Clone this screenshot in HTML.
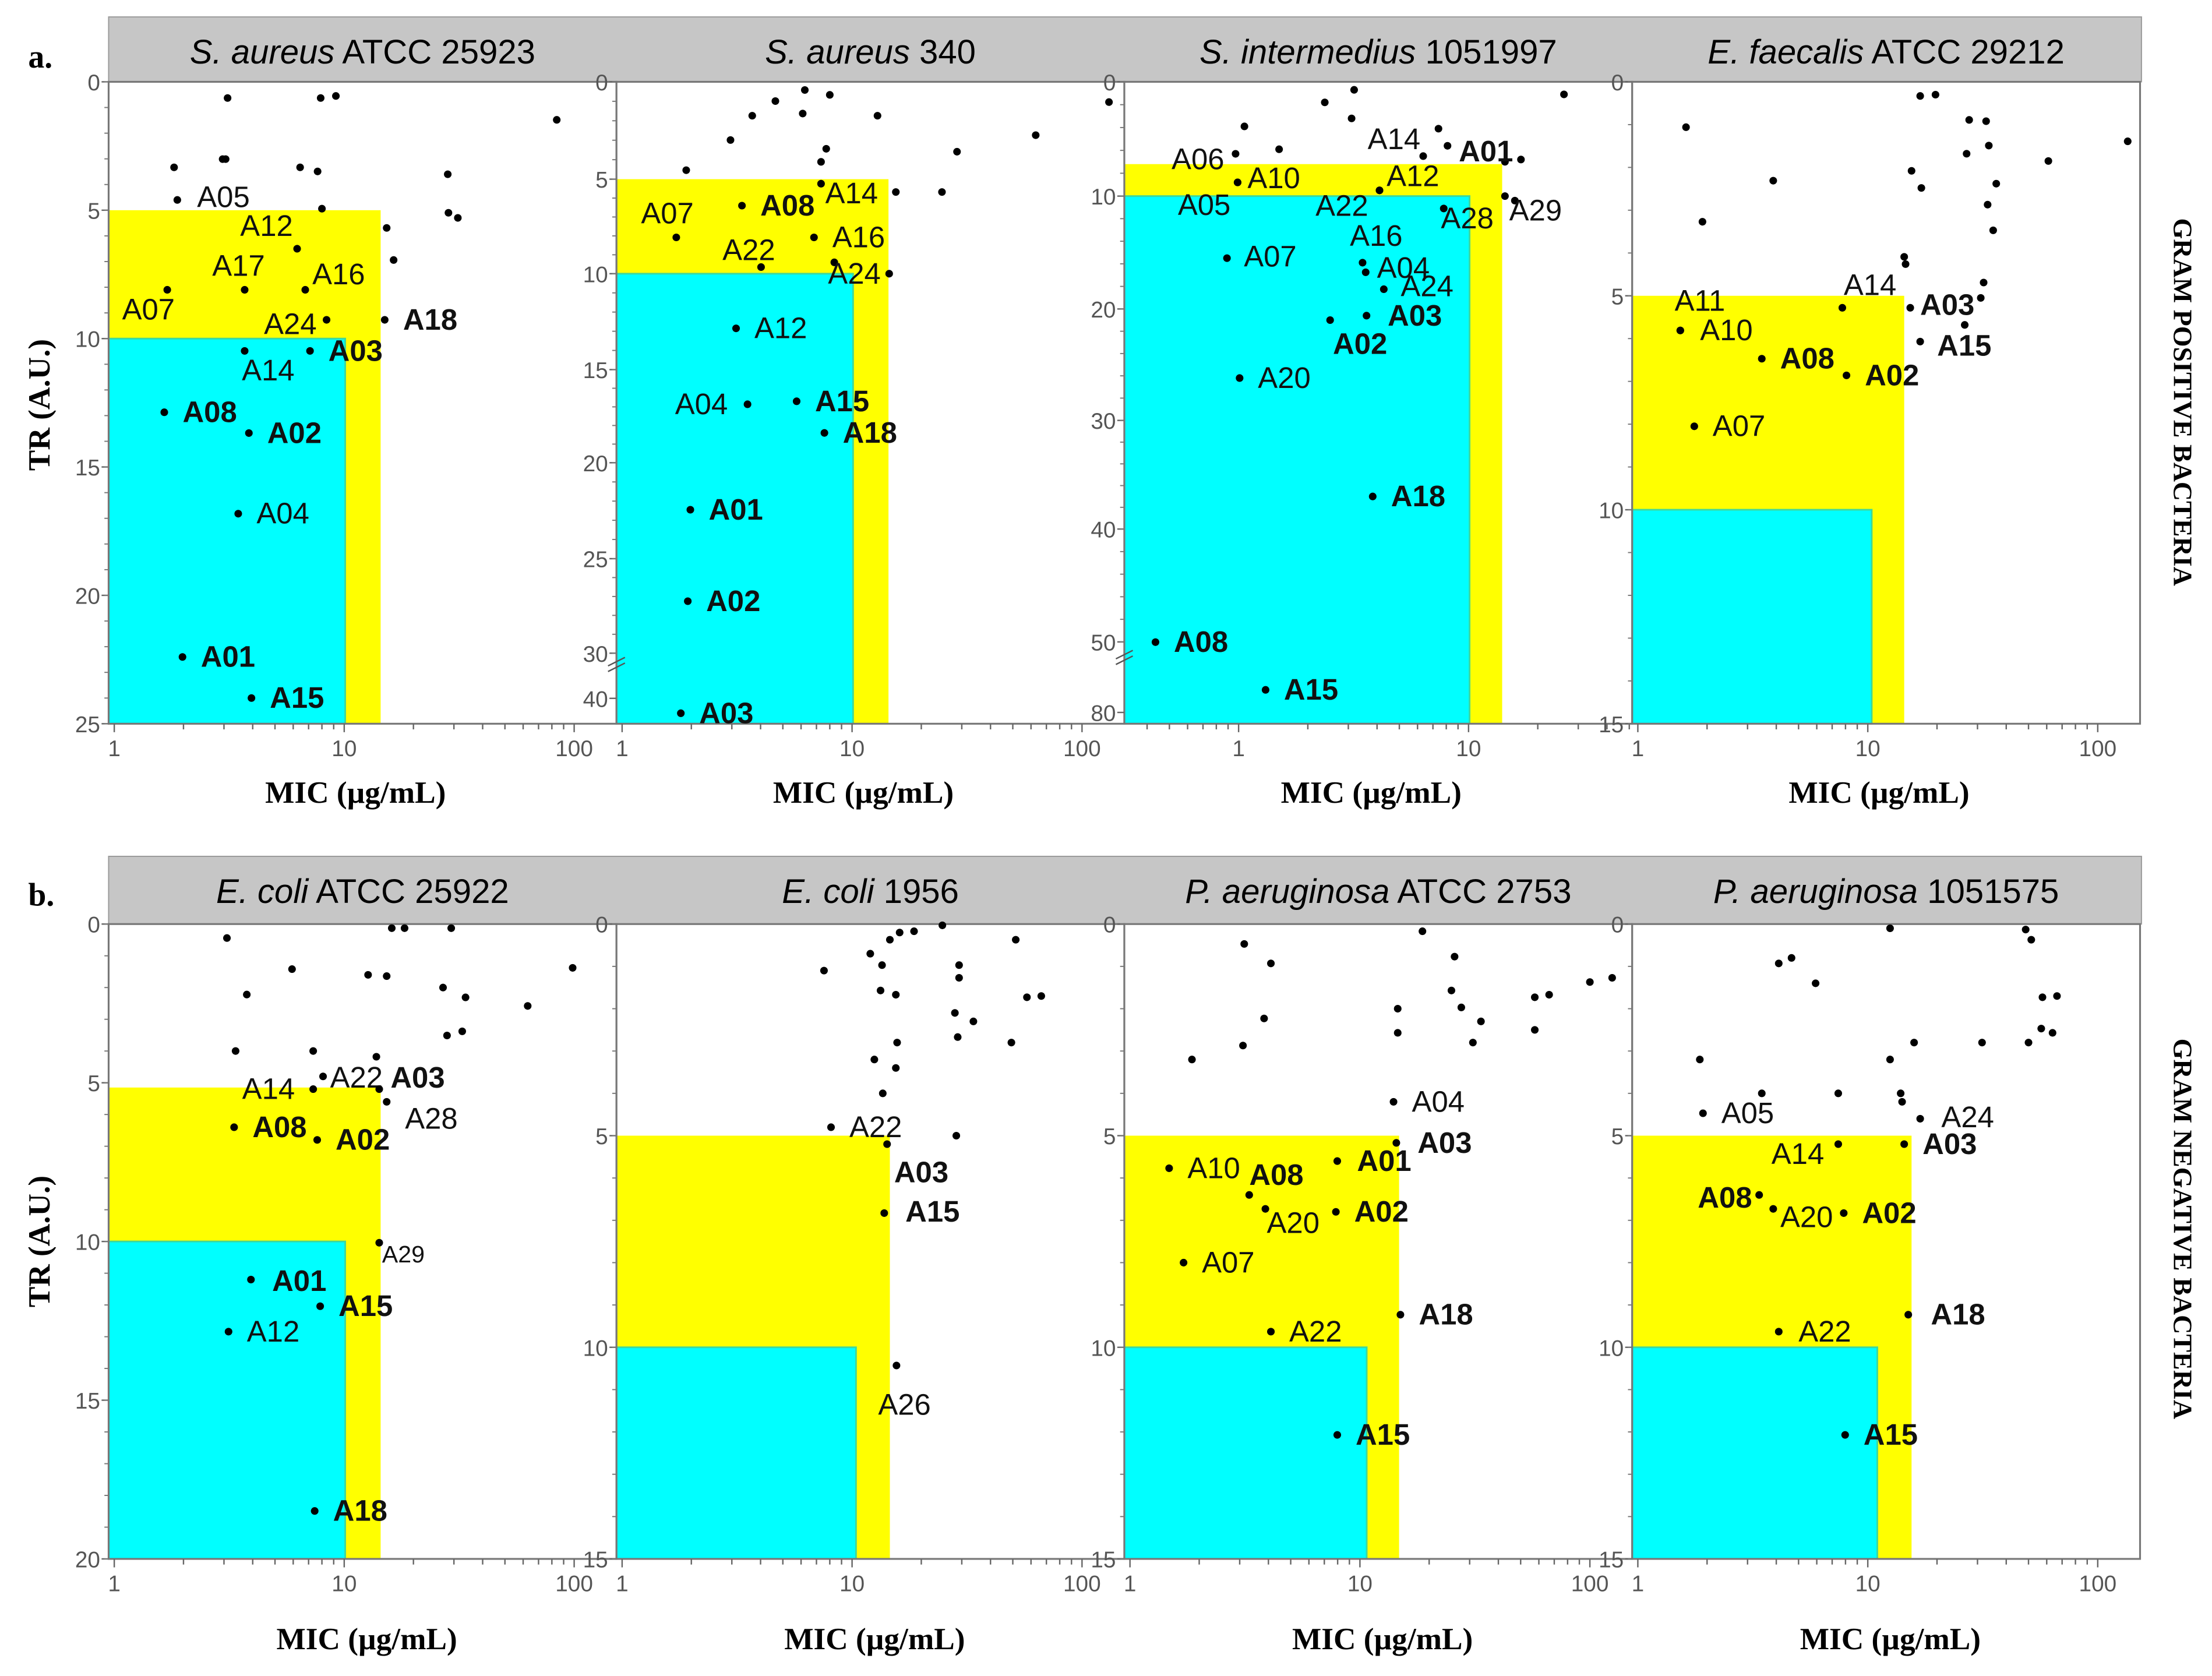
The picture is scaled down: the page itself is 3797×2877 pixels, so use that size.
<!DOCTYPE html>
<html><head><meta charset="utf-8"><title>TR vs MIC panels</title>
<style>
html,body{margin:0;padding:0;background:#fff;}
svg{display:block;}
</style></head>
<body>
<svg id="fig" xmlns="http://www.w3.org/2000/svg" width="3797" height="2877" viewBox="0 0 1568 1188" preserveAspectRatio="none"></svg>
<script>
// ---------------- DATA ----------------
// panel a1: S. aureus ATCC 25923
const a1Names=["","","","","","","","","","","","","","","","A05","A12","A17","A16","A07","A24","A18","A03","A14","A08","A02","A04","A01","A15"];
const a1Mic=[3.11,7.9,9.2,84,1.82,2.96,3.05,6.43,7.66,28.2,8.0,28.4,31.2,15.3,16.4,1.88,6.24,3.69,6.77,1.7,8.38,15,7.1,3.69,1.65,3.85,3.46,1.98,3.95];
const a1Tr=[0.63,0.63,0.55,1.48,3.33,3.01,3.01,3.33,3.49,3.6,4.94,5.1,5.3,5.69,6.94,4.6,6.5,8.1,8.1,8.1,9.27,9.27,10.48,10.48,12.87,13.68,16.82,22.4,24.0];
// panel a2: S. aureus 340
const a2Names=["","","","","","","","","","","","","","","","","A14","A08","A07","A16","A22","A24","A12","A04","A15","A18","A01","A02","A03"];
const a2Mic=[6.23,8.0,4.64,6.1,3.68,12.9,131,2.96,62.9,7.72,28.6,7.33,1.9,15.5,24.6,8.37,7.33,3.32,1.72,6.83,4.02,14.5,3.13,3.51,5.74,7.58,1.98,1.93,1.8];
const a2Tr=[0.42,0.67,0.99,1.63,1.74,1.74,1.04,2.99,2.74,3.44,3.59,4.11,4.54,5.68,5.68,9.4,5.24,6.4,8.08,8.08,9.65,10.0,12.85,16.86,16.7,18.4,22.45,27.25,43.3];
// panel a3: S. intermedius 1051997
const a3Names=["","","","","","","","","","","A06","A10","A05","A14","A01","A12","A22","A28","A29","A16","A04","A24","A03","A02","A07","A20","A18","A08","A15"];
const a3Mic=[1.06,1.5,2.37,3.18,3.1,26,7.4,14.4,16.9,14.4,0.97,0.99,0.99,6.35,8.1,4.1,4.1,7.8,15.9,3.46,3.57,4.28,3.6,2.5,0.89,1.01,3.83,0.435,1.31];
const a3Tr=[3.9,5.9,1.8,0.7,3.2,1.1,4.1,7.0,6.8,10,6.3,8.8,8.8,6.5,5.6,9.5,9.5,11.1,10.4,15.9,16.75,18.25,20.6,21,15.5,26.2,37.0,50.1,70.4];
// panel a4: E. faecalis ATCC 29212
const a4Names=["","","","","","","","","","","","","","","","","","","","","","A14","A03","A11","A10","A08","A02","A15","A07"];
const a4Mic=[1.62,3.88,1.91,16.9,19.7,27.6,32.7,26.9,33.6,135,61,15.5,17.1,36.2,33.2,35.1,14.4,14.6,31.9,31,26.4,7.75,15.3,1.53,1.53,3.46,8.08,16.9,1.76];
const a4Tr=[1.06,2.31,3.27,0.33,0.30,0.89,0.92,1.68,1.49,1.39,1.85,2.08,2.48,2.38,2.87,3.47,4.09,4.26,4.69,5.05,5.68,5.28,5.28,5.81,5.81,6.47,6.86,6.07,8.05];
// panel b1: E. coli ATCC 25922
const b1Names=["","","","","","","","","","","","","","","","","","A22","A14","A03","A28","A08","A02","A29","A01","A15","A12","A18"];
const b1Mic=[3.09,5.93,3.77,12.7,15.3,16.1,18.3,29.2,26.9,33.7,98.5,62.8,28,32.6,3.37,7.33,13.8,8.09,7.33,14.2,15.3,3.32,7.63,14.2,3.93,7.86,3.14,7.44];
const b1Tr=[0.44,1.42,2.22,1.6,1.64,0.13,0.13,0.13,2.0,2.31,1.38,2.58,3.51,3.38,4.0,4.0,4.18,4.8,5.2,5.2,5.6,6.4,6.8,10.04,11.2,12.04,12.84,18.49];
// panel b2: E. coli 1956
const b2Names=["","","","","","","","","","","","","","","","","","","","","","","","A22","A03","A15","A26"];
const b2Mic=[7.55,12.0,13.5,14.6,16.1,18.6,24.7,51.5,29.2,29.2,13.3,15.5,57.6,66.5,28,33.7,15.7,28.8,49.3,12.5,15.5,13.6,28.4,8.1,14.2,13.8,15.6];
const b2Tr=[1.1,0.7,0.97,0.37,0.2,0.17,0.03,0.37,0.97,1.27,1.57,1.67,1.73,1.7,2.1,2.3,2.8,2.67,2.8,3.2,3.4,4.0,5.0,4.8,5.2,6.83,10.43];
// panel b3: P. aeruginosa ATCC 2753
const b3Names=["","","","","","","","","","","","","","","","","","","A04","A03","A10","A08","A20","A01","A02","A07","A18","A22","A15"];
const b3Mic=[3.14,4.1,18.7,25.8,25,27.6,14.6,14.6,33.6,31,57.6,66.5,57.6,100,125,3.83,3.1,1.86,14,14.4,1.48,3.3,3.88,7.97,7.86,1.71,15,4.1,7.97];
const b3Tr=[0.47,0.93,0.17,0.77,1.57,1.97,2.0,2.57,2.3,2.8,1.73,1.67,2.5,1.37,1.27,2.23,2.87,3.2,4.2,5.17,5.77,6.4,6.73,5.6,6.8,8.0,9.23,9.63,12.07];
// panel b4: P. aeruginosa 1051575
const b4Names=["","","","","","","","","","","","","","","","","","","","A05","A24","A14","A03","A08","A20","A02","A18","A22","A15"];
const b4Mic=[12.5,48.6,51.4,4.1,4.66,5.93,57.5,66.5,56.8,63.6,15.9,31.4,50,1.86,12.5,3.46,7.44,13.9,14.1,1.92,16.9,7.44,14.4,3.37,3.88,7.86,15,4.1,7.97];
const b4Tr=[0.1,0.13,0.37,0.93,0.8,1.4,1.73,1.7,2.47,2.57,2.8,2.8,2.8,3.2,3.2,4.0,4.0,4.0,4.2,4.47,4.6,5.2,5.2,6.4,6.73,6.83,9.23,9.63,12.07];

// y tick labels per panel
const a1Ticks=[0,5,10,15,20,25];
const a2Ticks=[0,5,10,15,20,25,30,40];
const a3Ticks=[0,10,20,30,40,50,80];
const a4Ticks=[0,5,10,15];
const b1Ticks=[0,5,10,15,20];
const bTicks=[0,5,10,15];
const xTickValues=[1,10,100];
// activity zone thresholds [yellowMIC, yellowTR, cyanMIC, cyanTR] per panel
const zoneYellowMic=[14.4,14.4,14.0,14.4,14.4,14.6,14.8,15.5];
const zoneYellowTr=[5,5,7.2,5,5.15,5,5,5];
const zoneCyanMic=[10.1,10.1,10.1,10.4,10.1,10.4,10.7,11];
const zoneCyanTr=[10,10,10,10,10,10,10,10];
const boldNames=["A01","A02","A03","A08","A15","A18"];

// ---------------- LAYOUT (not data) ----------------
const titles=[["S. aureus"," ATCC 25923"],["S. aureus"," 340"],["S. intermedius"," 1051997"],["E. faecalis"," ATCC 29212"],
 ["E. coli"," ATCC 25922"],["E. coli"," 1956"],["P. aeruginosa"," ATCC 2753"],["P. aeruginosa"," 1051575"]];
const panels=[
 {id:"a1",row:0,col:0,x1:81,yv:[0,25],yp:[58,513],ticks:a1Ticks,names:a1Names,mic:a1Mic,tr:a1Tr,
  off:{A05:[14,5],A12:[-3,-9,'end'],A17:[-23,-10],A16:[5,-4],A07:[-32,21],A24:[-7,10,'end'],A14:[-2,21]}},
 {id:"a2",row:0,col:1,x1:441,yv:[0,5,10,15,20,25,30,40,50],yp:[58,127,194,262,328,396,463,495,527],ticks:a2Ticks,names:a2Names,mic:a2Mic,tr:a2Tr,brk:470,
  off:{A14:[3,14],A07:[-25,-10],A22:[10,-5,'end'],A24:[-6,7,'end'],A04:[-14,7,'end']}},
 {id:"a3",row:0,col:2,x1:878,yv:[0,10,20,30,40,50,80],yp:[58,139,219,298,375,455,505],ticks:a3Ticks,names:a3Names,mic:a3Mic,tr:a3Tr,brk:465,
  off:{A06:[-8,11,'end'],A10:[7,4],A05:[-5,23,'end'],A14:[-2,-5,'end'],A01:[8,11],A12:[5,-3],A22:[-8,18,'end'],A28:[-2,14],A29:[-4,14],A16:[-9,-12],A04:[8,4],A24:[12,5],A03:[15,7],A02:[2,24],A07:[12,6]}},
 {id:"a4",row:0,col:3,x1:1161,yv:[0,15],yp:[58,513],ticks:a4Ticks,names:a4Names,mic:a4Mic,tr:a4Tr,
  off:{A14:[1,-9],A03:[7,5],A11:[-4,-14],A10:[14,7],A15:[12,10]}},
 {id:"b1",row:1,col:0,x1:81,yv:[0,20],yp:[655,1105],ticks:b1Ticks,names:b1Names,mic:b1Mic,tr:b1Tr,
  off:{A22:[5,8],A14:[-13,7,'end'],A03:[8,-1],A28:[13,19],A29:[2,14,'start',17],A01:[15,8]}},
 {id:"b2",row:1,col:1,x1:441,yv:[0,15],yp:[655,1105],ticks:bTicks,names:b2Names,mic:b2Mic,tr:b2Tr,
  off:{A03:[5,27],A15:[15,6],A26:[-13,35]}},
 {id:"b3",row:1,col:2,x1:801,yv:[0,15],yp:[655,1105],ticks:bTicks,names:b3Names,mic:b3Mic,tr:b3Tr,
  off:{A03:[15,7],A08:[0,-7],A20:[1,17],A01:[14,7]}},
 {id:"b4",row:1,col:3,x1:1161,yv:[0,15],yp:[655,1105],ticks:bTicks,names:b4Names,mic:b4Mic,tr:b4Tr,
  off:{A24:[15,6],A14:[-10,14,'end'],A08:[-5,9,'end'],A20:[5,13],A18:[16,7],A22:[14,7]}}
];
const PX=[77,437,797,1157], PW=360, ROWTOP=[58,655], ROWBOT=[513,1105], HEAD=[12,607], DEC=163;
const SANS='"Liberation Sans", Arial, sans-serif', SERIF='"Liberation Serif", "Times New Roman", serif';

const NS='http://www.w3.org/2000/svg';
const svg=document.getElementById('fig');
function mk(tag,parent){const e=document.createElementNS(NS,tag);(parent||svg).appendChild(e);return e;}
function xS(p,v){return p.x1+DEC*Math.log10(v);}
function yS(p,v){const a=p.yv,b=p.yp;let i=0;while(i<a.length-2&&v>a[i+1])i++;return b[i]+(v-a[i])*(b[i+1]-b[i])/(a[i+1]-a[i]);}

// panel letters
const la=mk('text');la.textContent='a.';


la.setAttribute('x',20);la.setAttribute('y',48);la.setAttribute('font-family',SERIF);la.setAttribute('font-weight','bold');la.setAttribute('font-size',23);
const lb=mk('text');lb.textContent='b.';


lb.setAttribute('x',20);lb.setAttribute('y',642);lb.setAttribute('font-family',SERIF);lb.setAttribute('font-weight','bold');lb.setAttribute('font-size',23);

// header bars
for(let r=0;r<2;r++){
 const h=mk('rect');
 
 
 h.setAttribute('x',77);h.setAttribute('y',HEAD[r]);h.setAttribute('width',1441);h.setAttribute('height',ROWTOP[r]-HEAD[r]);
 h.setAttribute('fill','#c6c6c6');h.setAttribute('stroke','#9a9a9a');h.setAttribute('stroke-width',0.8);
 // y axis title
 const yt=mk('text');yt.textContent='TR (A.U.)';
 
 
 const cy=r?880:287;
 yt.setAttribute('transform','translate(35,'+cy+') rotate(-90)');yt.setAttribute('text-anchor','middle');
 yt.setAttribute('font-family',SERIF);yt.setAttribute('font-weight','bold');yt.setAttribute('font-size',22);
 const gt=mk('text');gt.textContent=r?'GRAM NEGATIVE BACTERIA':'GRAM POSITIVE BACTERIA';
 
 
 gt.setAttribute('transform','translate(1541,'+(r?871:285)+') rotate(90)');gt.setAttribute('text-anchor','middle');
 gt.setAttribute('font-family',SERIF);gt.setAttribute('font-weight','bold');gt.setAttribute('font-size',19);
}

panels.forEach((p,k)=>{
 const L=PX[p.col],T=ROWTOP[p.row],B=ROWBOT[p.row],R=L+PW;
 const g=mk('g');
 
 
 // title
 const t=mk('text',g);
 
 
 t.setAttribute('x',L+PW/2);t.setAttribute('y',HEAD[p.row]+33);t.setAttribute('text-anchor','middle');
 t.setAttribute('font-family',SANS);t.setAttribute('font-size',24);
 const ts1=mk('tspan',t);ts1.textContent=titles[k][0];ts1.setAttribute('font-style','italic');
 const ts2=mk('tspan',t);ts2.textContent=titles[k][1];
 // background
 const bg=mk('rect',g);
 
 
 bg.setAttribute('x',L);bg.setAttribute('y',T);bg.setAttribute('width',PW);bg.setAttribute('height',B-T);bg.setAttribute('fill','#fff');
 // zones
 const yx=Math.min(xS(p,zoneYellowMic[k]),R), yy=yS(p,zoneYellowTr[k]);
 const yr=mk('rect',g);
 
 
 yr.setAttribute('x',L);yr.setAttribute('y',yy);yr.setAttribute('width',yx-L);yr.setAttribute('height',B-yy);yr.setAttribute('fill','#ffff00');
 const cx=Math.min(xS(p,zoneCyanMic[k]),R), cyy=yS(p,zoneCyanTr[k]);
 const cr=mk('rect',g);
 
 
 cr.setAttribute('x',L);cr.setAttribute('y',cyy);cr.setAttribute('width',cx-L);cr.setAttribute('height',B-cyy);
 cr.setAttribute('fill','#00ffff');cr.setAttribute('stroke','#3fd89a');cr.setAttribute('stroke-width',1.2);
 // frame
 const fr=mk('rect',g);
 
 
 fr.setAttribute('x',L);fr.setAttribute('y',T);fr.setAttribute('width',PW);fr.setAttribute('height',B-T);
 fr.setAttribute('fill','none');fr.setAttribute('stroke','#777');fr.setAttribute('stroke-width',1.3);
 // y ticks and labels
 const ymax=p.yv[p.yv.length-1];
 p.ticks.forEach(v=>{
  const y=yS(p,v);
  const tk=mk('line',g);
  
  
  tk.setAttribute('x1',L-5);tk.setAttribute('x2',L);tk.setAttribute('y1',y);tk.setAttribute('y2',y);tk.setAttribute('stroke','#666');tk.setAttribute('stroke-width',1);
  const tl=mk('text',g);tl.textContent=String(v);
  
  
  tl.setAttribute('x',L-6);tl.setAttribute('y',y+6);tl.setAttribute('text-anchor','end');
  tl.setAttribute('font-family',SANS);tl.setAttribute('font-size',16);tl.setAttribute('fill','#555');
 });
 // minor y ticks
 const step=(p.ticks[1]-p.ticks[0])/5;
 const lastLin=p.brk?p.ticks[p.ticks.length-2]:ymax;
 for(let v=0;v<=lastLin+1e-6;v+=step){
  const y=yS(p,v);
  const mt=mk('line',g);
  
  
  mt.setAttribute('x1',L-3);mt.setAttribute('x2',L);mt.setAttribute('y1',y);mt.setAttribute('y2',y);mt.setAttribute('stroke','#777');mt.setAttribute('stroke-width',0.8);
 }
 if(p.brk){
  const bk=mk('path',g);
  
  
  bk.setAttribute('d','M'+(L-6)+' '+(p.brk+2)+' L'+(L+6)+' '+(p.brk-4)+' M'+(L-6)+' '+(p.brk+6)+' L'+(L+6)+' '+p.brk);
  bk.setAttribute('stroke','#555');bk.setAttribute('stroke-width',1);bk.setAttribute('fill','none');
 }
 // x ticks
 for(let d=-1;d<=2;d++){for(let m=1;m<=9;m++){
  const v=m*Math.pow(10,d),x=xS(p,v);
  if(x<L-0.5||x>R+0.5)continue;
  const xt=mk('line',g);
  
  
  xt.setAttribute('x1',x);xt.setAttribute('x2',x);xt.setAttribute('y1',B);xt.setAttribute('y2',B+(m===1?6:4));xt.setAttribute('stroke','#666');xt.setAttribute('stroke-width',1);
 }}
 xTickValues.forEach(v=>{
  const x=xS(p,v);if(x<L-1||x>R)return;
  const xl=mk('text',g);xl.textContent=String(v);
  
  
  xl.setAttribute('x',x);xl.setAttribute('y',B+23);xl.setAttribute('text-anchor','middle');
  xl.setAttribute('font-family',SANS);xl.setAttribute('font-size',16);xl.setAttribute('fill','#555');
 });
 const xa=mk('text',g);xa.textContent='MIC (\u00b5g/mL)';
 
 
 xa.setAttribute('x',L+PW/2+(p.row?3:-5));xa.setAttribute('y',B+(p.row?64:56));xa.setAttribute('text-anchor','middle');
 xa.setAttribute('font-family',SERIF);xa.setAttribute('font-weight','bold');xa.setAttribute('font-size',22);
 // points
 for(let i=0;i<p.mic.length;i++){
  const x=xS(p,p.mic[i]),y=yS(p,p.tr[i]);
  const c=mk('circle',g);
  
  
  c.setAttribute('cx',x);c.setAttribute('cy',y);c.setAttribute('r',2.7);c.setAttribute('fill','#000');
  const nm=p.names[i];
  if(nm){
   const o=p.off[nm]||[13,7,'start'];
   const lt=mk('text',g);lt.textContent=nm;
   
   
   lt.setAttribute('x',x+o[0]);lt.setAttribute('y',y+o[1]);lt.setAttribute('text-anchor',o[2]||'start');
   lt.setAttribute('font-family',SANS);lt.setAttribute('font-size',o[3]||21);
   lt.setAttribute('fill','#111');
   if(boldNames.indexOf(nm)>=0)lt.setAttribute('font-weight','bold');
  }
 }
});
</script>
</body></html>
